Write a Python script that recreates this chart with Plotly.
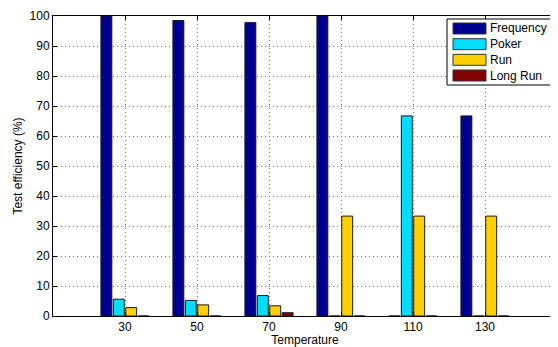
import plotly.graph_objects as go

temperatures = [30, 50, 70, 90, 110, 130]
series_names = ["Frequency", "Poker", "Run", "Long Run"]
frequency = [100.0, 98.5, 97.8, 100.0, 0.0, 66.7]
poker = [5.6, 5.2, 6.8, 0.0, 66.7, 0.0]
run = [2.8, 3.7, 3.4, 33.3, 33.3, 33.3]
long_run = [0.0, 0.0, 1.1, 0.0, 0.0, 0.0]
series_values = [frequency, poker, run, long_run]
colors = ["#00008F", "#00DDFF", "#FFD000", "#800000"]
y_ticks = [0, 10, 20, 30, 40, 50, 60, 70, 80, 90, 100]

# the page body has an 8px margin, so the figure is offset by 8px
OFF = 8
W, H = 558 - OFF, 347 - OFF
L, R, T, B = 53 - OFF, 1, 16 - OFF, 31
FONT = "Liberation Sans, Arial, Helvetica, sans-serif"

fig = go.Figure()
for name, vals, col in zip(series_names, series_values, colors):
    fig.add_trace(go.Bar(
        x=temperatures, y=vals, name=name,
        marker=dict(color=col, line=dict(color="#1a1a1a", width=1)),
        showlegend=False,
    ))

pw = W - L - R
ph = H - T - B
def px_x(p):  # absolute window pixel -> paper
    return (p - OFF - L) / pw
def px_y(p):
    return (H - B - (p - OFF)) / ph

# custom legend (MATLAB style)
shapes = [dict(type="rect", xref="paper", yref="paper",
               x0=px_x(447), x1=px_x(552), y0=px_y(85), y1=px_y(19),
               line=dict(color="black", width=1), fillcolor="white", layer="above")]
annotations = []
row_centers = [28.5, 44.2, 59.8, 75.5]
for name, col, yc in zip(series_names, colors, row_centers):
    shapes.append(dict(type="rect", xref="paper", yref="paper",
                       x0=px_x(453), x1=px_x(486), y0=px_y(yc + 5.5), y1=px_y(yc - 5.5),
                       line=dict(color="#333333", width=1), fillcolor=col, layer="above"))
    annotations.append(dict(xref="paper", yref="paper", x=px_x(488), y=px_y(yc),
                            text=name, showarrow=False, xanchor="left", yanchor="middle",
                            font=dict(family=FONT, size=12, color="black")))

fig.update_layout(
    width=W, height=H,
    margin=dict(l=L, r=R, t=T, b=B, pad=0),
    paper_bgcolor="white", plot_bgcolor="white",
    barmode="group", bargap=0.31, bargroupgap=0.12,
    font=dict(family=FONT, size=12, color="black"),
    shapes=shapes, annotations=annotations,
)
fig.update_xaxes(
    range=[10, 150], tickvals=temperatures, ticktext=[str(t) for t in temperatures],
    showgrid=True, gridcolor="#707070", griddash="1px,3px", gridwidth=1,
    showline=True, linecolor="black", linewidth=1, mirror="ticks",
    ticks="inside", ticklen=4, tickcolor="black",
    zeroline=False, automargin=False,
    title=dict(text="Temperature", standoff=4, font=dict(size=12)),
)
fig.update_yaxes(
    range=[0, 100], tickvals=y_ticks,
    showgrid=True, gridcolor="#707070", griddash="1px,3px", gridwidth=1,
    showline=True, linecolor="black", linewidth=1, mirror="ticks",
    ticks="inside", ticklen=4, tickcolor="black",
    zeroline=False, automargin=False,
    title=dict(text="Test efficiency (%)", standoff=4, font=dict(size=12)),
)
fig.write_html("out.html")
